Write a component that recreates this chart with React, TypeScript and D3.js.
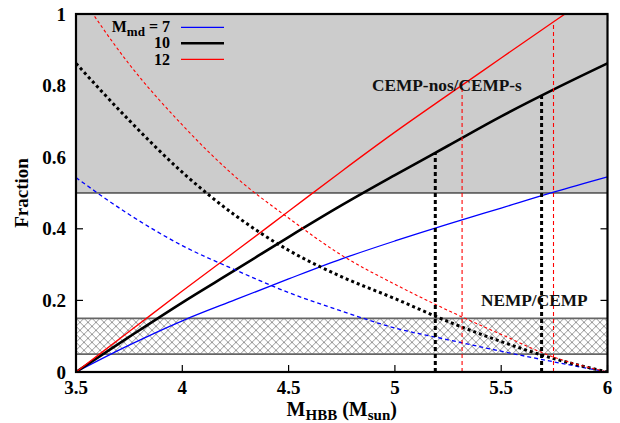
import React from 'react'
import * as d3 from 'd3'

// HBB mass grid (M_sun)
const mHbb = [3.5, 3.75, 4.0, 4.25, 4.5, 4.75, 5.0, 5.25, 5.5, 5.75, 6.0]

// CEMP-nos/CEMP-s fraction (rising) and NEMP/CEMP fraction (falling)
const rise7 = [0, 0.075, 0.143, 0.202, 0.26, 0.316, 0.366, 0.413, 0.458, 0.503, 0.545]
const rise10 = [0, 0.098, 0.194, 0.285, 0.377, 0.466, 0.55, 0.632, 0.714, 0.79, 0.862]
const rise12 = [0, 0.113, 0.226, 0.337, 0.449, 0.561, 0.67, 0.774, 0.877, 0.98, 1.08]
const fall7 = [0.543, 0.44, 0.353, 0.285, 0.222, 0.17, 0.123, 0.09, 0.058, 0.028, 0]
const fall10 = [0.862, 0.703, 0.558, 0.437, 0.34, 0.266, 0.205, 0.141, 0.085, 0.037, 0]
const fall12 = [1.07, 0.86, 0.69, 0.545, 0.43, 0.326, 0.245, 0.172, 0.105, 0.041, 0]

// marker lines: [M_HBB, top fraction]
const marks10 = [[5.19, 0.612], [5.69, 0.772]]
const marks12 = [[5.316, 0.8], [5.746, 0.975]]

const legendNames = ['7', '10', '12']
const xTicks = [3.5, 4, 4.5, 5, 5.5, 6]
const yTicks = [0, 0.2, 0.4, 0.6, 0.8, 1]

const width = 620
const height = 423
const x = d3.scaleLinear().domain([3.5, 6]).range([76, 607.5])
const y = d3.scaleLinear().domain([0, 1]).range([372, 14])

const font = '"Liberation Serif", "Times New Roman", serif'

const line = d3
  .line<[number, number]>()
  .x((d) => x(d[0]))
  .y((d) => y(d[1]))
  .curve(d3.curveMonotoneX)

const pts = (vals: number[]) => mHbb.map((m, i) => [m, vals[i]] as [number, number])

const series = [
  { vals: rise7, color: '#0000ff', w: 1.3, dash: null },
  { vals: rise10, color: '#000000', w: 2.6, dash: null },
  { vals: rise12, color: '#ff0000', w: 1.3, dash: null },
  { vals: fall7, color: '#0000ff', w: 1.3, dash: '4,3' },
  { vals: fall10, color: '#000000', w: 3, dash: '3,3' },
  { vals: fall12, color: '#ff0000', w: 1.1, dash: '3,2.5' },
]

export default function App() {
  const [x0, x1] = x.range()
  const [y0, y1] = y.range()
  return (
    <svg
      width={width}
      height={height}
      style={{ position: 'absolute', left: 0, top: 0, background: '#fff' }}
      fontFamily={font}
      fontWeight="bold"
    >
      <defs>
        <clipPath id="plot">
          <rect x={x0} y={y1} width={x1 - x0} height={y0 - y1} />
        </clipPath>
        <pattern id="hatch" patternUnits="userSpaceOnUse" x={x0} y={y(0.15)} width={8} height={8}>
          <rect width={8} height={8} fill="#fff" />
          <path d="M0,0 L8,8 M8,0 L0,8" stroke="#999" strokeWidth={1} />
        </pattern>
      </defs>

      {/* ticks */}
      {xTicks.map((t) => (
        <g key={'xt' + t}>
          <line x1={x(t)} x2={x(t)} y1={y0} y2={y0 - 7} stroke="#000" strokeWidth={1.2} />
          <line x1={x(t)} x2={x(t)} y1={y1} y2={y1 + 7} stroke="#000" strokeWidth={1.2} />
          <text x={x(t)} y={394} textAnchor="middle" fontSize={19}>
            {t}
          </text>
        </g>
      ))}
      {yTicks.map((t) => (
        <g key={'yt' + t}>
          <line x1={x0} x2={x0 + 7} y1={y(t)} y2={y(t)} stroke="#000" strokeWidth={1.2} />
          <line x1={x1} x2={x1 - 7} y1={y(t)} y2={y(t)} stroke="#000" strokeWidth={1.2} />
          <text x={66} y={y(t)} dy="0.35em" textAnchor="end" fontSize={19}>
            {t}
          </text>
        </g>
      ))}

      {/* CEMP-nos/CEMP-s region and NEMP/CEMP band */}
      <rect x={x0} y={y(1)} width={x1 - x0} height={y(0.5) - y(1)} fill="#cccccc" />
      <line x1={x0} x2={x1} y1={y(0.5)} y2={y(0.5)} stroke="#000" strokeWidth={1.2} />
      <rect x={x0} y={y(0.15)} width={x1 - x0} height={y(0.05) - y(0.15)} fill="url(#hatch)" />
      <line x1={x0} x2={x1} y1={y(0.15)} y2={y(0.15)} stroke="#666" strokeWidth={1.8} />
      <line x1={x0} x2={x1} y1={y(0.05)} y2={y(0.05)} stroke="#666" strokeWidth={1.8} />

      <g clipPath="url(#plot)">
        {series.map((s, i) => (
          <path
            key={i}
            d={line(pts(s.vals)) || ''}
            fill="none"
            stroke={s.color}
            strokeWidth={s.w}
            strokeDasharray={s.dash || undefined}
          />
        ))}
        {marks10.map(([m, v]) => (
          <line key={'b' + m} x1={x(m)} x2={x(m)} y1={y0} y2={y(v)} stroke="#000" strokeWidth={3} strokeDasharray="4,3" />
        ))}
        {marks12.map(([m, v]) => (
          <line key={'r' + m} x1={x(m)} x2={x(m)} y1={y0} y2={y(v)} stroke="#ff0000" strokeWidth={1.1} strokeDasharray="4,3" />
        ))}
      </g>

      <text x={372} y={91} fontSize={17.3} fill="#111">CEMP-nos/CEMP-s</text>
      <text x={481} y={306} fontSize={17.3} fill="#111">NEMP/CEMP</text>

      {/* legend */}
      {legendNames.map((n, i) => (
        <g key={'lg' + n}>
          <text x={170} y={32 + i * 16.3} textAnchor="end" fontSize={16}>
            {i === 0 ? (
              <>
                M<tspan fontSize={13} dy={4}>md</tspan>
                <tspan dy={-4}> = 7</tspan>
              </>
            ) : (
              n
            )}
          </text>
          <line
            x1={181}
            x2={224}
            y1={27.3 + i * 16}
            y2={27.3 + i * 16}
            stroke={series[i].color}
            strokeWidth={series[i].w}
          />
        </g>
      ))}

      {/* axis titles */}
      <text transform={`translate(28,${(y0 + y1) / 2}) rotate(-90)`} textAnchor="middle" fontSize={19}>
        Fraction
      </text>
      <text x={(x0 + x1) / 2} y={416} textAnchor="middle" fontSize={20}>
        M<tspan fontSize={15} dy={3.5}>HBB</tspan>
        <tspan dy={-3.5}> (M</tspan>
        <tspan fontSize={15} dy={3.5}>sun</tspan>
        <tspan dy={-3.5}>)</tspan>
      </text>

      <rect x={x0} y={y1} width={x1 - x0} height={y0 - y1} fill="none" stroke="#000" strokeWidth={2.2} />
    </svg>
  )
}
